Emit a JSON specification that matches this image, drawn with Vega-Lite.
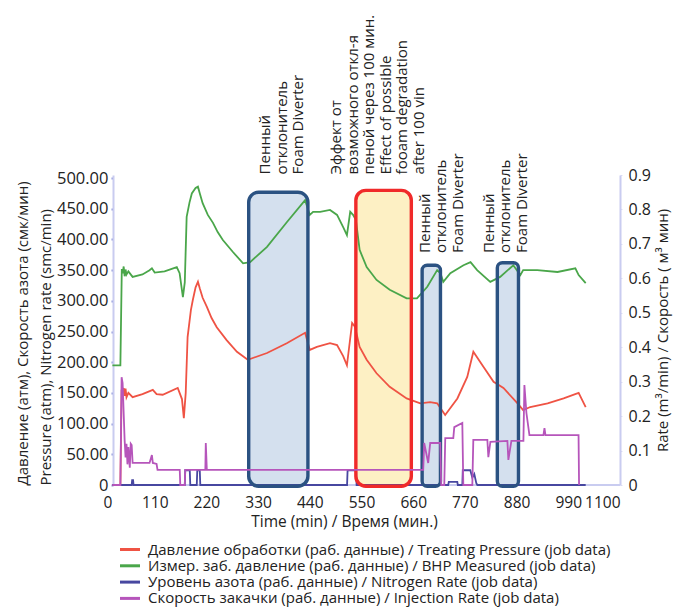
{
  "$schema": "https://vega.github.io/schema/vega-lite/v6.json",
  "width": 517,
  "height": 310,
  "autosize": "none",
  "padding": {"left": 103, "top": 175, "right": 53, "bottom": 125},
  "config": {
    "font": "Open Sans",
    "view": {"stroke": null},
    "axis": {
      "grid": false,
      "labelColor": "#222222",
      "titleColor": "#222222",
      "labelFontWeight": "normal",
      "titleFontWeight": "normal",
      "labelOverlap": false
    },
    "axisLeft": {
      "offset": -10,
      "values": [0, 50, 100, 150, 200, 250, 300, 350, 400, 450, 500],
      "labelOverlap": false,
      "labelExpr": "datum.value == 0 ? '0' : format(datum.value, '.2f')",
      "labelFontSize": 16.5,
      "labelPadding": 3,
      "domainColor": "#c9ccf0",
      "domainWidth": 2,
      "tickColor": "#8f97d8",
      "tickSize": 2,
      "tickWidth": 2,
      "titleFontSize": 15,
      "titleLineHeight": 23,
      "titleAnchor": "start",
      "titleAlign": "left",
      "titlePadding": 3
    },
    "legend": {
      "orient": "none",
      "legendX": 19.5,
      "legendY": 367,
      "direction": "vertical",
      "symbolType": "M-1.67,0H1.67",
      "symbolSize": 144,
      "symbolStrokeWidth": 3,
      "symbolFillColor": "transparent",
      "labelFontSize": 15,
      "labelColor": "#222222",
      "labelOffset": 10.5,
      "labelLimit": 700,
      "rowPadding": 0.3,
      "title": null
    }
  },
  "datasets": {
    "series": [
      {"series": "Давление обработки (раб. данные) / Treating Pressure (job data)", "t": 20, "v": 0},
      {"series": "Давление обработки (раб. данные) / Treating Pressure (job data)", "t": 37, "v": 0},
      {"series": "Давление обработки (раб. данные) / Treating Pressure (job data)", "t": 39.6, "v": 155},
      {"series": "Давление обработки (раб. данные) / Treating Pressure (job data)", "t": 42, "v": 150},
      {"series": "Давление обработки (раб. данные) / Treating Pressure (job data)", "t": 44, "v": 158},
      {"series": "Давление обработки (раб. данные) / Treating Pressure (job data)", "t": 46, "v": 145},
      {"series": "Давление обработки (раб. данные) / Treating Pressure (job data)", "t": 48, "v": 157},
      {"series": "Давление обработки (раб. данные) / Treating Pressure (job data)", "t": 50, "v": 143},
      {"series": "Давление обработки (раб. данные) / Treating Pressure (job data)", "t": 54, "v": 150},
      {"series": "Давление обработки (раб. данные) / Treating Pressure (job data)", "t": 63, "v": 143},
      {"series": "Давление обработки (раб. данные) / Treating Pressure (job data)", "t": 84, "v": 148},
      {"series": "Давление обработки (раб. данные) / Treating Pressure (job data)", "t": 106, "v": 155},
      {"series": "Давление обработки (раб. данные) / Treating Pressure (job data)", "t": 114, "v": 148},
      {"series": "Давление обработки (раб. данные) / Treating Pressure (job data)", "t": 127, "v": 147},
      {"series": "Давление обработки (раб. данные) / Treating Pressure (job data)", "t": 159, "v": 158},
      {"series": "Давление обработки (раб. данные) / Treating Pressure (job data)", "t": 168, "v": 140},
      {"series": "Давление обработки (раб. данные) / Treating Pressure (job data)", "t": 172, "v": 109},
      {"series": "Давление обработки (раб. данные) / Treating Pressure (job data)", "t": 176, "v": 150},
      {"series": "Давление обработки (раб. данные) / Treating Pressure (job data)", "t": 180, "v": 241},
      {"series": "Давление обработки (раб. данные) / Treating Pressure (job data)", "t": 187, "v": 285},
      {"series": "Давление обработки (раб. данные) / Treating Pressure (job data)", "t": 191, "v": 301},
      {"series": "Давление обработки (раб. данные) / Treating Pressure (job data)", "t": 197, "v": 322},
      {"series": "Давление обработки (раб. данные) / Treating Pressure (job data)", "t": 202, "v": 331},
      {"series": "Давление обработки (раб. данные) / Treating Pressure (job data)", "t": 206, "v": 320},
      {"series": "Давление обработки (раб. данные) / Treating Pressure (job data)", "t": 212, "v": 305},
      {"series": "Давление обработки (раб. данные) / Treating Pressure (job data)", "t": 221, "v": 290},
      {"series": "Давление обработки (раб. данные) / Treating Pressure (job data)", "t": 231, "v": 272},
      {"series": "Давление обработки (раб. данные) / Treating Pressure (job data)", "t": 242, "v": 257},
      {"series": "Давление обработки (раб. данные) / Treating Pressure (job data)", "t": 263, "v": 236},
      {"series": "Давление обработки (раб. данные) / Treating Pressure (job data)", "t": 285, "v": 217},
      {"series": "Давление обработки (раб. данные) / Treating Pressure (job data)", "t": 308, "v": 204},
      {"series": "Давление обработки (раб. данные) / Treating Pressure (job data)", "t": 349, "v": 215},
      {"series": "Давление обработки (раб. данные) / Treating Pressure (job data)", "t": 391, "v": 231},
      {"series": "Давление обработки (раб. данные) / Treating Pressure (job data)", "t": 430, "v": 248},
      {"series": "Давление обработки (раб. данные) / Treating Pressure (job data)", "t": 440, "v": 220},
      {"series": "Давление обработки (раб. данные) / Treating Pressure (job data)", "t": 455, "v": 225},
      {"series": "Давление обработки (раб. данные) / Treating Pressure (job data)", "t": 483, "v": 231},
      {"series": "Давление обработки (раб. данные) / Treating Pressure (job data)", "t": 498, "v": 228},
      {"series": "Давление обработки (раб. данные) / Treating Pressure (job data)", "t": 511, "v": 210},
      {"series": "Давление обработки (раб. данные) / Treating Pressure (job data)", "t": 519, "v": 195},
      {"series": "Давление обработки (раб. данные) / Treating Pressure (job data)", "t": 530, "v": 264},
      {"series": "Давление обработки (раб. данные) / Treating Pressure (job data)", "t": 536, "v": 258},
      {"series": "Давление обработки (раб. данные) / Treating Pressure (job data)", "t": 546, "v": 225},
      {"series": "Давление обработки (раб. данные) / Treating Pressure (job data)", "t": 561, "v": 204},
      {"series": "Давление обработки (раб. данные) / Treating Pressure (job data)", "t": 582, "v": 182},
      {"series": "Давление обработки (раб. данные) / Treating Pressure (job data)", "t": 610, "v": 160},
      {"series": "Давление обработки (раб. данные) / Treating Pressure (job data)", "t": 646, "v": 141},
      {"series": "Давление обработки (раб. данные) / Treating Pressure (job data)", "t": 675, "v": 133},
      {"series": "Давление обработки (раб. данные) / Treating Pressure (job data)", "t": 696, "v": 135},
      {"series": "Давление обработки (раб. данные) / Treating Pressure (job data)", "t": 711, "v": 133},
      {"series": "Давление обработки (раб. данные) / Treating Pressure (job data)", "t": 728, "v": 114},
      {"series": "Давление обработки (раб. данные) / Treating Pressure (job data)", "t": 754, "v": 141},
      {"series": "Давление обработки (раб. данные) / Treating Pressure (job data)", "t": 775, "v": 176},
      {"series": "Давление обработки (раб. данные) / Treating Pressure (job data)", "t": 788, "v": 217},
      {"series": "Давление обработки (раб. данные) / Treating Pressure (job data)", "t": 809, "v": 193},
      {"series": "Давление обработки (раб. данные) / Treating Pressure (job data)", "t": 831, "v": 168},
      {"series": "Давление обработки (раб. данные) / Treating Pressure (job data)", "t": 852, "v": 158},
      {"series": "Давление обработки (раб. данные) / Treating Pressure (job data)", "t": 882, "v": 133},
      {"series": "Давление обработки (раб. данные) / Treating Pressure (job data)", "t": 894, "v": 122},
      {"series": "Давление обработки (раб. данные) / Treating Pressure (job data)", "t": 909, "v": 127},
      {"series": "Давление обработки (раб. данные) / Treating Pressure (job data)", "t": 946, "v": 133},
      {"series": "Давление обработки (раб. данные) / Treating Pressure (job data)", "t": 980, "v": 141},
      {"series": "Давление обработки (раб. данные) / Treating Pressure (job data)", "t": 1012, "v": 150},
      {"series": "Давление обработки (раб. данные) / Treating Pressure (job data)", "t": 1027, "v": 127},

      {"series": "Измер. заб. давление (раб. данные) / BHP Measured (job data)", "t": 20, "v": 195},
      {"series": "Измер. заб. давление (раб. данные) / BHP Measured (job data)", "t": 37, "v": 195},
      {"series": "Измер. заб. давление (раб. данные) / BHP Measured (job data)", "t": 40, "v": 352},
      {"series": "Измер. заб. давление (раб. данные) / BHP Measured (job data)", "t": 42, "v": 345},
      {"series": "Измер. заб. давление (раб. данные) / BHP Measured (job data)", "t": 44, "v": 356},
      {"series": "Измер. заб. давление (раб. данные) / BHP Measured (job data)", "t": 46, "v": 340},
      {"series": "Измер. заб. давление (раб. данные) / BHP Measured (job data)", "t": 48, "v": 351},
      {"series": "Измер. заб. давление (раб. данные) / BHP Measured (job data)", "t": 50, "v": 343},
      {"series": "Измер. заб. давление (раб. данные) / BHP Measured (job data)", "t": 54, "v": 348},
      {"series": "Измер. заб. давление (раб. данные) / BHP Measured (job data)", "t": 63, "v": 339},
      {"series": "Измер. заб. давление (раб. данные) / BHP Measured (job data)", "t": 84, "v": 343},
      {"series": "Измер. заб. давление (раб. данные) / BHP Measured (job data)", "t": 99, "v": 350},
      {"series": "Измер. заб. давление (раб. данные) / BHP Measured (job data)", "t": 104, "v": 353},
      {"series": "Измер. заб. давление (раб. данные) / BHP Measured (job data)", "t": 110, "v": 346},
      {"series": "Измер. заб. давление (раб. данные) / BHP Measured (job data)", "t": 131, "v": 348},
      {"series": "Измер. заб. давление (раб. данные) / BHP Measured (job data)", "t": 157, "v": 355},
      {"series": "Измер. заб. давление (раб. данные) / BHP Measured (job data)", "t": 163, "v": 345},
      {"series": "Измер. заб. давление (раб. данные) / BHP Measured (job data)", "t": 170, "v": 306},
      {"series": "Измер. заб. давление (раб. данные) / BHP Measured (job data)", "t": 174, "v": 330},
      {"series": "Измер. заб. давление (раб. данные) / BHP Measured (job data)", "t": 178, "v": 437},
      {"series": "Измер. заб. давление (раб. данные) / BHP Measured (job data)", "t": 184, "v": 460},
      {"series": "Измер. заб. давление (раб. данные) / BHP Measured (job data)", "t": 189, "v": 475},
      {"series": "Измер. заб. давление (раб. данные) / BHP Measured (job data)", "t": 197, "v": 484},
      {"series": "Измер. заб. давление (раб. данные) / BHP Measured (job data)", "t": 202, "v": 486},
      {"series": "Измер. заб. давление (раб. данные) / BHP Measured (job data)", "t": 206, "v": 475},
      {"series": "Измер. заб. давление (раб. данные) / BHP Measured (job data)", "t": 212, "v": 459},
      {"series": "Измер. заб. давление (раб. данные) / BHP Measured (job data)", "t": 223, "v": 440},
      {"series": "Измер. заб. давление (раб. данные) / BHP Measured (job data)", "t": 234, "v": 427},
      {"series": "Измер. заб. давление (раб. данные) / BHP Measured (job data)", "t": 244, "v": 412},
      {"series": "Измер. заб. давление (раб. данные) / BHP Measured (job data)", "t": 255, "v": 399},
      {"series": "Измер. заб. давление (раб. данные) / BHP Measured (job data)", "t": 276, "v": 380},
      {"series": "Измер. заб. давление (раб. данные) / BHP Measured (job data)", "t": 298, "v": 361},
      {"series": "Измер. заб. давление (раб. данные) / BHP Measured (job data)", "t": 313, "v": 363},
      {"series": "Измер. заб. давление (раб. данные) / BHP Measured (job data)", "t": 349, "v": 388},
      {"series": "Измер. заб. давление (раб. данные) / BHP Measured (job data)", "t": 391, "v": 428},
      {"series": "Измер. заб. давление (раб. данные) / BHP Measured (job data)", "t": 430, "v": 464},
      {"series": "Измер. заб. давление (раб. данные) / BHP Measured (job data)", "t": 440, "v": 440},
      {"series": "Измер. заб. давление (раб. данные) / BHP Measured (job data)", "t": 447, "v": 445},
      {"series": "Измер. заб. давление (раб. данные) / BHP Measured (job data)", "t": 462, "v": 445},
      {"series": "Измер. заб. давление (раб. данные) / BHP Measured (job data)", "t": 483, "v": 448},
      {"series": "Измер. заб. давление (раб. данные) / BHP Measured (job data)", "t": 498, "v": 440},
      {"series": "Измер. заб. давление (раб. данные) / BHP Measured (job data)", "t": 511, "v": 420},
      {"series": "Измер. заб. давление (раб. данные) / BHP Measured (job data)", "t": 519, "v": 407},
      {"series": "Измер. заб. давление (раб. данные) / BHP Measured (job data)", "t": 526, "v": 445},
      {"series": "Измер. заб. давление (раб. данные) / BHP Measured (job data)", "t": 532, "v": 440},
      {"series": "Измер. заб. давление (раб. данные) / BHP Measured (job data)", "t": 538, "v": 432},
      {"series": "Измер. заб. давление (раб. данные) / BHP Measured (job data)", "t": 546, "v": 383},
      {"series": "Измер. заб. давление (раб. данные) / BHP Measured (job data)", "t": 561, "v": 355},
      {"series": "Измер. заб. давление (раб. данные) / BHP Measured (job data)", "t": 582, "v": 334},
      {"series": "Измер. заб. давление (раб. данные) / BHP Measured (job data)", "t": 610, "v": 318},
      {"series": "Измер. заб. давление (раб. данные) / BHP Measured (job data)", "t": 646, "v": 304},
      {"series": "Измер. заб. давление (раб. данные) / BHP Measured (job data)", "t": 668, "v": 304},
      {"series": "Измер. заб. давление (раб. данные) / BHP Measured (job data)", "t": 690, "v": 323},
      {"series": "Измер. заб. давление (раб. данные) / BHP Measured (job data)", "t": 711, "v": 350},
      {"series": "Измер. заб. давление (раб. данные) / BHP Measured (job data)", "t": 718, "v": 345},
      {"series": "Измер. заб. давление (раб. данные) / BHP Measured (job data)", "t": 724, "v": 331},
      {"series": "Измер. заб. давление (раб. данные) / BHP Measured (job data)", "t": 739, "v": 345},
      {"series": "Измер. заб. давление (раб. данные) / BHP Measured (job data)", "t": 767, "v": 358},
      {"series": "Измер. заб. давление (раб. данные) / BHP Measured (job data)", "t": 782, "v": 363},
      {"series": "Измер. заб. давление (раб. данные) / BHP Measured (job data)", "t": 796, "v": 350},
      {"series": "Измер. заб. давление (раб. данные) / BHP Measured (job data)", "t": 824, "v": 331},
      {"series": "Измер. заб. давление (раб. данные) / BHP Measured (job data)", "t": 845, "v": 339},
      {"series": "Измер. заб. давление (раб. данные) / BHP Measured (job data)", "t": 873, "v": 358},
      {"series": "Измер. заб. давление (раб. данные) / BHP Measured (job data)", "t": 888, "v": 342},
      {"series": "Измер. заб. давление (раб. данные) / BHP Measured (job data)", "t": 894, "v": 350},
      {"series": "Измер. заб. давление (раб. данные) / BHP Measured (job data)", "t": 924, "v": 350},
      {"series": "Измер. заб. давление (раб. данные) / BHP Measured (job data)", "t": 967, "v": 347},
      {"series": "Измер. заб. давление (раб. данные) / BHP Measured (job data)", "t": 1005, "v": 353},
      {"series": "Измер. заб. давление (раб. данные) / BHP Measured (job data)", "t": 1012, "v": 342},
      {"series": "Измер. заб. давление (раб. данные) / BHP Measured (job data)", "t": 1027, "v": 329},

      {"series": "Уровень азота (раб. данные) / Nitrogen Rate (job data)", "t": 20, "v": 0},
      {"series": "Уровень азота (раб. данные) / Nitrogen Rate (job data)", "t": 61, "v": 0},
      {"series": "Уровень азота (раб. данные) / Nitrogen Rate (job data)", "t": 62, "v": 8},
      {"series": "Уровень азота (раб. данные) / Nitrogen Rate (job data)", "t": 64, "v": 8},
      {"series": "Уровень азота (раб. данные) / Nitrogen Rate (job data)", "t": 65, "v": 0},
      {"series": "Уровень азота (раб. данные) / Nitrogen Rate (job data)", "t": 174, "v": 0},
      {"series": "Уровень азота (раб. данные) / Nitrogen Rate (job data)", "t": 175, "v": 24},
      {"series": "Уровень азота (раб. данные) / Nitrogen Rate (job data)", "t": 184.6, "v": 24},
      {"series": "Уровень азота (раб. данные) / Nitrogen Rate (job data)", "t": 185.7, "v": 0},
      {"series": "Уровень азота (раб. данные) / Nitrogen Rate (job data)", "t": 199.5, "v": 0},
      {"series": "Уровень азота (раб. данные) / Nitrogen Rate (job data)", "t": 200.6, "v": 24},
      {"series": "Уровень азота (раб. данные) / Nitrogen Rate (job data)", "t": 205.9, "v": 24},
      {"series": "Уровень азота (раб. данные) / Nitrogen Rate (job data)", "t": 207, "v": 0},
      {"series": "Уровень азота (раб. данные) / Nitrogen Rate (job data)", "t": 519.3, "v": 0},
      {"series": "Уровень азота (раб. данные) / Nitrogen Rate (job data)", "t": 520.4, "v": 24},
      {"series": "Уровень азота (раб. данные) / Nitrogen Rate (job data)", "t": 538.5, "v": 24},
      {"series": "Уровень азота (раб. данные) / Nitrogen Rate (job data)", "t": 539.6, "v": 0},
      {"series": "Уровень азота (раб. данные) / Nitrogen Rate (job data)", "t": 734.6, "v": 0},
      {"series": "Уровень азота (раб. данные) / Nitrogen Rate (job data)", "t": 735.7, "v": 5},
      {"series": "Уровень азота (раб. данные) / Nitrogen Rate (job data)", "t": 753.8, "v": 5},
      {"series": "Уровень азота (раб. данные) / Nitrogen Rate (job data)", "t": 754.9, "v": 0},
      {"series": "Уровень азота (раб. данные) / Nitrogen Rate (job data)", "t": 764.5, "v": 0},
      {"series": "Уровень азота (раб. данные) / Nitrogen Rate (job data)", "t": 765.5, "v": 24},
      {"series": "Уровень азота (раб. данные) / Nitrogen Rate (job data)", "t": 781.5, "v": 24},
      {"series": "Уровень азота (раб. данные) / Nitrogen Rate (job data)", "t": 785.8, "v": 12},
      {"series": "Уровень азота (раб. данные) / Nitrogen Rate (job data)", "t": 790, "v": 18},
      {"series": "Уровень азота (раб. данные) / Nitrogen Rate (job data)", "t": 794.3, "v": 3},
      {"series": "Уровень азота (раб. данные) / Nitrogen Rate (job data)", "t": 796.5, "v": 0},
      {"series": "Уровень азота (раб. данные) / Nitrogen Rate (job data)", "t": 1027, "v": 0},

      {"series": "Скорость закачки (раб. данные) / Injection Rate (job data)", "t": 20, "v": 0},
      {"series": "Скорость закачки (раб. данные) / Injection Rate (job data)", "t": 37, "v": 0},
      {"series": "Скорость закачки (раб. данные) / Injection Rate (job data)", "t": 39.6, "v": 0.313},
      {"series": "Скорость закачки (раб. данные) / Injection Rate (job data)", "t": 41.7, "v": 0.296},
      {"series": "Скорость закачки (раб. данные) / Injection Rate (job data)", "t": 46, "v": 0.131},
      {"series": "Скорость закачки (раб. данные) / Injection Rate (job data)", "t": 48, "v": 0.08},
      {"series": "Скорость закачки (раб. данные) / Injection Rate (job data)", "t": 50, "v": 0.12},
      {"series": "Скорость закачки (раб. данные) / Injection Rate (job data)", "t": 52, "v": 0.06},
      {"series": "Скорость закачки (раб. данные) / Injection Rate (job data)", "t": 54, "v": 0.11},
      {"series": "Скорость закачки (раб. данные) / Injection Rate (job data)", "t": 57, "v": 0.05},
      {"series": "Скорость закачки (раб. данные) / Injection Rate (job data)", "t": 59, "v": 0.12},
      {"series": "Скорость закачки (раб. данные) / Injection Rate (job data)", "t": 61, "v": 0.116},
      {"series": "Скорость закачки (раб. данные) / Injection Rate (job data)", "t": 63, "v": 0.064},
      {"series": "Скорость закачки (раб. данные) / Injection Rate (job data)", "t": 99, "v": 0.064},
      {"series": "Скорость закачки (раб. данные) / Injection Rate (job data)", "t": 104, "v": 0.087},
      {"series": "Скорость закачки (раб. данные) / Injection Rate (job data)", "t": 106, "v": 0.064},
      {"series": "Скорость закачки (раб. данные) / Injection Rate (job data)", "t": 114, "v": 0.061},
      {"series": "Скорость закачки (раб. данные) / Injection Rate (job data)", "t": 116, "v": 0.044},
      {"series": "Скорость закачки (раб. данные) / Injection Rate (job data)", "t": 163.3, "v": 0.044},
      {"series": "Скорость закачки (раб. данные) / Injection Rate (job data)", "t": 164.4, "v": 0},
      {"series": "Скорость закачки (раб. данные) / Injection Rate (job data)", "t": 174, "v": 0},
      {"series": "Скорость закачки (раб. данные) / Injection Rate (job data)", "t": 175, "v": 0.044},
      {"series": "Скорость закачки (раб. данные) / Injection Rate (job data)", "t": 217.7, "v": 0.044},
      {"series": "Скорость закачки (раб. данные) / Injection Rate (job data)", "t": 218.7, "v": 0.122},
      {"series": "Скорость закачки (раб. данные) / Injection Rate (job data)", "t": 220.9, "v": 0.044},
      {"series": "Скорость закачки (раб. данные) / Injection Rate (job data)", "t": 681.3, "v": 0.044},
      {"series": "Скорость закачки (раб. данные) / Injection Rate (job data)", "t": 683.4, "v": 0.122},
      {"series": "Скорость закачки (раб. данные) / Injection Rate (job data)", "t": 691.9, "v": 0.064},
      {"series": "Скорость закачки (раб. данные) / Injection Rate (job data)", "t": 696.2, "v": 0.122},
      {"series": "Скорость закачки (раб. данные) / Injection Rate (job data)", "t": 717.5, "v": 0.122},
      {"series": "Скорость закачки (раб. данные) / Injection Rate (job data)", "t": 719.7, "v": 0},
      {"series": "Скорость закачки (раб. данные) / Injection Rate (job data)", "t": 726.1, "v": 0},
      {"series": "Скорость закачки (раб. данные) / Injection Rate (job data)", "t": 728.2, "v": 0.136},
      {"series": "Скорость закачки (раб. данные) / Injection Rate (job data)", "t": 745.3, "v": 0.136},
      {"series": "Скорость закачки (раб. данные) / Injection Rate (job data)", "t": 747.4, "v": 0.168},
      {"series": "Скорость закачки (раб. данные) / Injection Rate (job data)", "t": 764.5, "v": 0.18},
      {"series": "Скорость закачки (раб. данные) / Injection Rate (job data)", "t": 766.6, "v": 0},
      {"series": "Скорость закачки (раб. данные) / Injection Rate (job data)", "t": 785.8, "v": 0},
      {"series": "Скорость закачки (раб. данные) / Injection Rate (job data)", "t": 787.9, "v": 0.131},
      {"series": "Скорость закачки (раб. данные) / Injection Rate (job data)", "t": 817.8, "v": 0.131},
      {"series": "Скорость закачки (раб. данные) / Injection Rate (job data)", "t": 819.9, "v": 0.081},
      {"series": "Скорость закачки (раб. данные) / Injection Rate (job data)", "t": 824.2, "v": 0.125},
      {"series": "Скорость закачки (раб. данные) / Injection Rate (job data)", "t": 860.4, "v": 0.128},
      {"series": "Скорость закачки (раб. данные) / Injection Rate (job data)", "t": 862.5, "v": 0.073},
      {"series": "Скорость закачки (раб. данные) / Injection Rate (job data)", "t": 868.9, "v": 0.128},
      {"series": "Скорость закачки (раб. данные) / Injection Rate (job data)", "t": 894.5, "v": 0.128},
      {"series": "Скорость закачки (раб. данные) / Injection Rate (job data)", "t": 896.6, "v": 0.29},
      {"series": "Скорость закачки (раб. данные) / Injection Rate (job data)", "t": 900.9, "v": 0.209},
      {"series": "Скорость закачки (раб. данные) / Injection Rate (job data)", "t": 907.3, "v": 0.145},
      {"series": "Скорость закачки (раб. данные) / Injection Rate (job data)", "t": 937.1, "v": 0.145},
      {"series": "Скорость закачки (раб. данные) / Injection Rate (job data)", "t": 939.3, "v": 0.165},
      {"series": "Скорость закачки (раб. данные) / Injection Rate (job data)", "t": 941.4, "v": 0.145},
      {"series": "Скорость закачки (раб. данные) / Injection Rate (job data)", "t": 1011.8, "v": 0.145},
      {"series": "Скорость закачки (раб. данные) / Injection Rate (job data)", "t": 1012.9, "v": 0}
    ],
    "boxes": [
      {"kind": "foam", "width": "wide", "t": 310, "t2": 436, "v": 477, "v2": -2},
      {"kind": "decay", "width": "wide", "t": 538, "t2": 656, "v": 480, "v2": -2},
      {"kind": "foam", "width": "narrow", "t": 679, "t2": 718, "v": 358, "v2": -2},
      {"kind": "foam", "width": "narrow", "t": 839, "t2": 884, "v": 362, "v2": -2}
    ],
    "notes": [
      {"t": 330, "v": 506, "label": "Пенный\nотклонитель\nFoam Diverter"},
      {"t": 481, "v": 506, "label": "Эффект от\nвозможного откл-я\nпеной через 100 мин.\nEffect of possible\nfooam degradation\nafter 100 vin"},
      {"t": 670, "v": 378, "label": "Пенный\nотклонитель\nFoam Diverter"},
      {"t": 806, "v": 378, "label": "Пенный\nотклонитель\nFoam Diverter"}
    ],
    "baseline": [
      {"t": 20, "t2": 1100, "v": 0}
    ]
  },
  "layer": [
    {
      "layer": [
        {
          "data": {"name": "boxes"},
          "transform": [{"filter": "datum.width == 'wide'"}],
          "mark": {"type": "rect", "cornerRadius": 10, "strokeWidth": 0},
          "encoding": {
            "x": {
              "field": "t", "type": "quantitative",
              "scale": {"domain": [0, 1100], "nice": false, "zero": false},
              "axis": {
                "values": [0, 110, 220, 330, 440, 550, 660, 770, 880, 990, 1100],
                "format": "d",
                "domain": false,
                "ticks": false,
                "labelOverlap": false,
                "labelFontSize": 15.5,
                "labelPadding": 10,
                "title": "Time (min) / Время (мин.)",
                "titleFontSize": 15.5,
                "titleX": 241,
                "titlePadding": 4
              }
            },
            "x2": {"field": "t2"},
            "y": {
              "field": "v", "type": "quantitative",
              "scale": {"domain": [0, 505], "nice": false},
              "axis": {
                "orient": "left",
                "values": [0, 50, 100, 150, 200, 250, 300, 350, 400, 450, 500],
                "labelOverlap": false,
                "title": ["Давление (атм), Скорость азота (смк/мин)", "Pressure (atm), Nitrogen rate (smc/min)"]
              }
            },
            "y2": {"field": "v2"},
            "fill": {
              "condition": {"test": "datum.kind == 'decay'", "value": "#fdf0c4"},
              "value": "#d4e0ee"
            }
          }
        },
        {
          "data": {"name": "boxes"},
          "transform": [{"filter": "datum.width == 'narrow'"}],
          "mark": {"type": "rect", "cornerRadius": 5, "strokeWidth": 0, "fill": "#d4e0ee"},
          "encoding": {
            "x": {"field": "t", "type": "quantitative"},
            "x2": {"field": "t2"},
            "y": {"field": "v", "type": "quantitative", "axis": {"orient": "left", "values": [0, 50, 100, 150, 200, 250, 300, 350, 400, 450, 500], "labelOverlap": false, "title": ["Давление (атм), Скорость азота (смк/мин)", "Pressure (atm), Nitrogen rate (smc/min)"]}},
            "y2": {"field": "v2"}
          }
        },
        {
          "data": {"name": "baseline"},
          "mark": {"type": "rule", "color": "#c9ccf0", "strokeWidth": 2},
          "encoding": {
            "x": {"field": "t", "type": "quantitative"},
            "x2": {"field": "t2"},
            "y": {"field": "v", "type": "quantitative", "axis": {"orient": "left", "values": [0, 50, 100, 150, 200, 250, 300, 350, 400, 450, 500], "labelOverlap": false, "title": ["Давление (атм), Скорость азота (смк/мин)", "Pressure (atm), Nitrogen rate (smc/min)"]}}
          }
        },
        {
          "data": {"name": "series"},
          "transform": [
            {"filter": "indexof(datum.series, 'Injection') < 0"}
          ],
          "mark": {"type": "line", "strokeWidth": 1.8},
          "encoding": {
            "x": {"field": "t", "type": "quantitative"},
            "y": {"field": "v", "type": "quantitative", "axis": {"orient": "left", "values": [0, 50, 100, 150, 200, 250, 300, 350, 400, 450, 500], "labelOverlap": false, "title": ["Давление (атм), Скорость азота (смк/мин)", "Pressure (atm), Nitrogen rate (smc/min)"]}},
            "color": {
              "field": "series", "type": "nominal",
              "scale": {
                "domain": [
                  "Давление обработки (раб. данные) / Treating Pressure (job data)",
                  "Измер. заб. давление (раб. данные) / BHP Measured (job data)",
                  "Уровень азота (раб. данные) / Nitrogen Rate (job data)",
                  "Скорость закачки (раб. данные) / Injection Rate (job data)"
                ],
                "range": ["#ef5344", "#4aa64a", "#4747a0", "#b655bb"]
              }
            }
          }
        },
        {
          "data": {"name": "boxes"},
          "transform": [{"filter": "datum.width == 'wide'"}],
          "mark": {"type": "rect", "cornerRadius": 10, "fill": null, "strokeWidth": 3.4},
          "encoding": {
            "x": {"field": "t", "type": "quantitative"},
            "x2": {"field": "t2"},
            "y": {"field": "v", "type": "quantitative", "axis": {"orient": "left", "values": [0, 50, 100, 150, 200, 250, 300, 350, 400, 450, 500], "labelOverlap": false, "title": ["Давление (атм), Скорость азота (смк/мин)", "Pressure (atm), Nitrogen rate (smc/min)"]}},
            "y2": {"field": "v2"},
            "stroke": {
              "condition": {"test": "datum.kind == 'decay'", "value": "#f02a2a"},
              "value": "#2b5282"
            }
          }
        },
        {
          "data": {"name": "boxes"},
          "transform": [{"filter": "datum.width == 'narrow'"}],
          "mark": {"type": "rect", "cornerRadius": 5, "fill": null, "strokeWidth": 3.4, "stroke": "#2b5282"},
          "encoding": {
            "x": {"field": "t", "type": "quantitative"},
            "x2": {"field": "t2"},
            "y": {"field": "v", "type": "quantitative", "axis": {"orient": "left", "values": [0, 50, 100, 150, 200, 250, 300, 350, 400, 450, 500], "labelOverlap": false, "title": ["Давление (атм), Скорость азота (смк/мин)", "Pressure (atm), Nitrogen rate (smc/min)"]}},
            "y2": {"field": "v2"}
          }
        },
        {
          "data": {"name": "notes"},
          "mark": {
            "type": "text",
            "angle": 270,
            "align": "left",
            "baseline": "top",
            "fontSize": 15,
            "lineHeight": 16.5,
            "lineBreak": "\n",
            "color": "#222222"
          },
          "encoding": {
            "x": {"field": "t", "type": "quantitative"},
            "y": {"field": "v", "type": "quantitative", "axis": {"orient": "left", "values": [0, 50, 100, 150, 200, 250, 300, 350, 400, 450, 500], "labelOverlap": false, "title": ["Давление (атм), Скорость азота (смк/мин)", "Pressure (atm), Nitrogen rate (smc/min)"]}},
            "text": {"field": "label"}
          }
        }
      ]
    },
    {
      "data": {"name": "series"},
      "transform": [
        {"filter": "indexof(datum.series, 'Injection') >= 0"}
      ],
      "mark": {"type": "line", "strokeWidth": 1.8},
      "encoding": {
        "x": {"field": "t", "type": "quantitative"},
        "y": {
          "field": "v", "type": "quantitative",
          "scale": {"domain": [0, 0.9], "nice": false},
          "axis": {
            "orient": "right",
            "values": [0, 0.1, 0.2, 0.3, 0.4, 0.5, 0.6, 0.7, 0.8, 0.9],
            "labelOverlap": false,
            "labelExpr": "datum.value == 0 ? '0' : format(datum.value, '.1f')",
            "labelFontSize": 16,
            "labelPadding": 6,
            "domainColor": "#c9ccf0",
            "domainWidth": 2,
            "tickColor": "#dcdff5",
            "tickSize": 2,
            "title": "Rate (m³/min) / Скорость ( м³ мин)",
            "titleFontSize": 15,
            "titleAngle": 270,
            "titleBaseline": "top",
            "titlePadding": 5
          }
        },
        "color": {"field": "series", "type": "nominal"}
      }
    }
  ],
  "resolve": {"scale": {"y": "independent"}}
}
